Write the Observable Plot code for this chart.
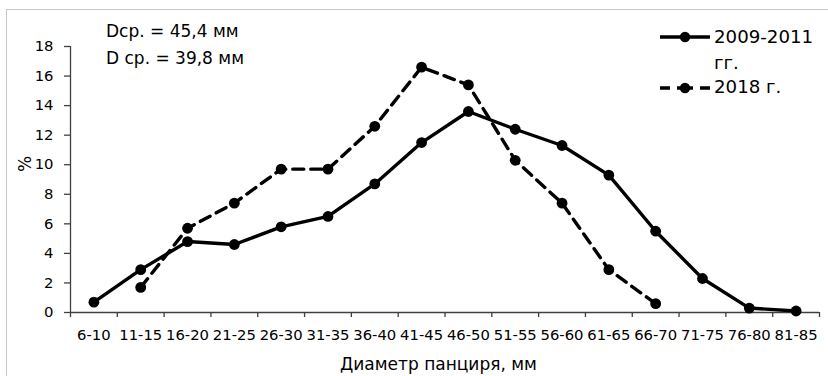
<!DOCTYPE html>
<html>
<head>
<meta charset="utf-8">
<script src="https://cdn.jsdelivr.net/npm/d3@7"></script>
<script src="https://cdn.jsdelivr.net/npm/@observablehq/plot@0.6"></script>
<style>
  html, body { margin: 0; padding: 0; background: #fff; }
  #wrap { position: relative; width: 828px; height: 376px; overflow: hidden; font-family: "DejaVu Sans", sans-serif; color: #000; }
  #frame { position: absolute; left: 6px; top: 9px; width: 830px; height: 380px; border: 1px solid #c8c8c8; box-sizing: border-box; pointer-events: none; }
  .t { position: absolute; white-space: nowrap; line-height: 1; }
  #plot { position: absolute; left: 0; top: 0; }
</style>
</head>
<body>
<div id="wrap">
  <div id="plot"></div>
  <div id="frame"></div>
  <div class="t" style="left:106px; top:23px; font-size:17px;">Dср. = 45,4 мм</div>
  <div class="t" style="left:106px; top:50px; font-size:17px;">D ср. = 39,8 мм</div>
  <div class="t" style="left:17px; top:172px; font-size:17px; transform: rotate(-90deg); transform-origin: 0 0;">%</div>
  <div class="t" style="left:340px; top:356px; font-size:17px;">Диаметр панциря, мм</div>
  <svg id="legend" style="position:absolute; left:0; top:0;" width="828" height="120"></svg>
  <div class="t" style="left:714px; top:28px; font-size:18.2px;">2009-2011</div>
  <div class="t" style="left:714px; top:54px; font-size:18.2px;">гг.</div>
  <div class="t" style="left:714px; top:78px; font-size:18.2px;">2018 г.</div>
</div>
<script>
const categories = ["6-10","11-15","16-20","21-25","26-30","31-35","36-40","41-45","46-50","51-55","56-60","61-65","66-70","71-75","76-80","81-85"];
const values2009 = [0.7, 2.9, 4.8, 4.6, 5.8, 6.5, 8.7, 11.5, 13.6, 12.4, 11.3, 9.3, 5.5, 2.3, 0.3, 0.1];
const values2018 = [null, 1.7, 5.7, 7.4, 9.7, 9.7, 12.6, 16.6, 15.4, 10.3, 7.4, 2.9, 0.6, null, null, null];
const yTicks = [0, 2, 4, 6, 8, 10, 12, 14, 16, 18];

const idx = categories.map((_, i) => i);
const bounds = categories.map((_, i) => i - 0.5).concat([categories.length - 0.5]);
const s2009 = idx.map(i => ({i, v: values2009[i]}));
const s2018 = idx.filter(i => values2018[i] != null).map(i => ({i, v: values2018[i]}));

const axisColor = "#404040";
const fs = 14.8;
const chart = Plot.plot({
  width: 828,
  height: 376,
  marginLeft: 70,
  marginRight: 9,
  marginTop: 46,
  marginBottom: 64,
  style: {fontFamily: "DejaVu Sans, sans-serif", fontSize: fs + "px", color: "#000", background: "transparent"},
  x: {type: "linear", domain: [-0.5, categories.length - 0.5]},
  y: {domain: [0, 18]},
  marks: [
    Plot.ruleY([0], {stroke: axisColor, strokeWidth: 1.3}),
    Plot.ruleX([-0.5], {y1: 0, y2: 18, stroke: axisColor, strokeWidth: 1.3}),
    Plot.axisX(bounds, {tickSize: 5, tickFormat: () => "", stroke: axisColor, strokeWidth: 1.3, label: null}),
    Plot.axisX(idx, {tickSize: 0, tickPadding: 17, tickFormat: i => categories[i], label: null, fill: "#000", fontSize: fs}),
    Plot.axisY(yTicks, {tickSize: 6, tickPadding: 11, stroke: axisColor, strokeWidth: 1.3, label: null, fill: "#000", fontSize: fs}),
    Plot.line(s2009, {x: "i", y: "v", stroke: "#000", strokeWidth: 3.4}),
    Plot.dot(s2009, {x: "i", y: "v", r: 5.4, fill: "#000"}),
    Plot.line(s2018, {x: "i", y: "v", stroke: "#000", strokeWidth: 3.4, strokeDasharray: "11,7"}),
    Plot.dot(s2018, {x: "i", y: "v", r: 5.4, fill: "#000"})
  ]
});
document.getElementById("plot").appendChild(chart);

// legend samples
const lg = d3.select("#legend");
lg.append("line").attr("x1", 660).attr("x2", 710).attr("y1", 37).attr("y2", 37).attr("stroke", "#000").attr("stroke-width", 3.4);
lg.append("circle").attr("cx", 685).attr("cy", 37).attr("r", 5.2).attr("fill", "#000");
lg.append("line").attr("x1", 660).attr("x2", 710).attr("y1", 88).attr("y2", 88).attr("stroke", "#000").attr("stroke-width", 3.4).attr("stroke-dasharray", "10,7,16,7,10");
lg.append("circle").attr("cx", 685).attr("cy", 88).attr("r", 5.2).attr("fill", "#000");
</script>
</body>
</html>
